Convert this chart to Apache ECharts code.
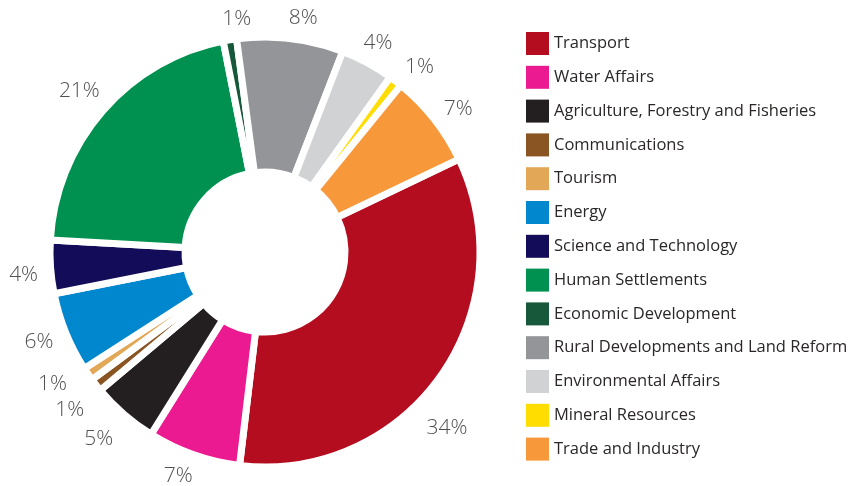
<!DOCTYPE html>
<html>
<head>
<meta charset="utf-8">
<script src="https://cdn.jsdelivr.net/npm/echarts@6/dist/echarts.min.js"></script>
<style>
  html, body { margin: 0; padding: 0; background: #ffffff; }
  #chart { width: 848px; height: 486px; }
</style>
</head>
<body>
<div id="chart"></div>
<script>
// Budget share by department (percent)
const departments = [
  'Transport',
  'Water Affairs',
  'Agriculture, Forestry and Fisheries',
  'Communications',
  'Tourism',
  'Energy',
  'Science and Technology',
  'Human Settlements',
  'Economic Development',
  'Rural Developments and Land Reform',
  'Environmental Affairs',
  'Mineral Resources',
  'Trade and Industry'
];
const shares = [34, 7, 5, 1, 1, 6, 4, 21, 1, 8, 4, 1, 7];
const colors = [
  '#b30d1f', '#ec1a91', '#231f20', '#8b5523', '#e3a857', '#0087cd', '#130c58',
  '#009150', '#18583a', '#939598', '#d1d2d4', '#ffdd00', '#f7993a'
];

// small nudges [dx, dy] so the percentage labels sit clear of each other
const labelNudge = [
  [-18, 33], [-5, -8], [-5, 1], [-2, 6], [-10, -8], [2, -2], [4, 6],
  [0, 0], [12, 10], [9, 10], [-4, 7], [5, 10], [0, 9]
];

const center = [265, 252];
const startAngle = 25.6;

const sliceData = departments.map((name, i) => ({
  name: name,
  value: shares[i],
  itemStyle: { color: colors[i] }
}));

const labelData = departments.map((name, i) => ({
  name: name,
  value: shares[i],
  label: { offset: labelNudge[i] }
}));

const chart = echarts.init(document.getElementById('chart'), null, { renderer: 'canvas' });

chart.setOption({
  backgroundColor: '#ffffff',
  animation: false,
  legend: {
    orient: 'vertical',
    left: 526,
    top: 32,
    padding: 0,
    itemWidth: 23,
    itemHeight: 23,
    itemGap: 10.8,
    icon: 'rect',
    selectedMode: false,
    itemStyle: { borderWidth: 0 },
    textStyle: {
      fontFamily: 'Open Sans',
      fontSize: 16.5,
      color: '#2b2728'
    },
    data: departments
  },
  series: [
    {
      // the donut itself; white borders form the gaps between slices
      type: 'pie',
      center: center,
      radius: [80, 215],
      startAngle: startAngle,
      clockwise: true,
      silent: true,
      itemStyle: { borderColor: '#ffffff', borderWidth: 7 },
      label: { show: false },
      labelLine: { show: false },
      data: sliceData
    },
    {
      // transparent ring carrying the percentage labels
      type: 'pie',
      center: center,
      radius: [230, 256],
      startAngle: startAngle,
      clockwise: true,
      silent: true,
      itemStyle: { color: 'rgba(0,0,0,0)' },
      labelLayout: { hideOverlap: false },
      label: {
        show: true,
        position: 'inside',
        formatter: p => p.value + '%',
        fontFamily: 'Open Sans',
        fontWeight: 300,
        fontSize: 21,
        color: '#505052'
      },
      labelLine: { show: false },
      data: labelData
    }
  ]
});
</script>
</body>
</html>
